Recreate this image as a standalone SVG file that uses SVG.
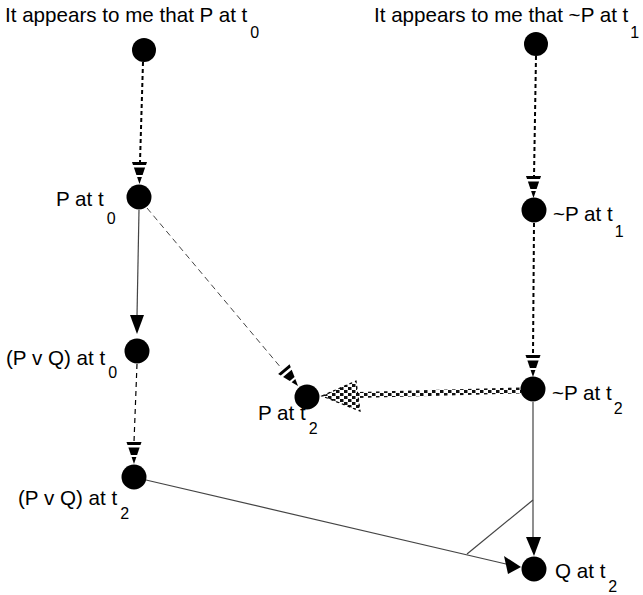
<svg xmlns="http://www.w3.org/2000/svg" width="643" height="595" viewBox="0 0 643 595">
<style>
text{font-family:"Liberation Sans",Arial,sans-serif;font-size:20.6px;fill:#000}
.sub{font-size:16px}
.node{fill:#000}
.solid{stroke:#444;stroke-width:1.2;fill:none}
.dash1{stroke:#000;stroke-width:2;stroke-dasharray:4 3;fill:none}
.dash2{stroke:#000;stroke-width:1.2;stroke-dasharray:5 4;fill:none}
.dash3{stroke:#444;stroke-width:1;stroke-dasharray:6 4;fill:none}
.head{fill:#000}
</style>
<defs>
<g id="sh">
<polygon points="-7.5,-22 7.5,-22 6.5,-19 -6.5,-19"/>
<polygon points="-5.6,-16.5 5.6,-16.5 3.1,-9 -3.1,-9"/>
<polygon points="-2.4,-7 2.4,-7 0,0"/>
</g>
<pattern id="checker" width="8" height="6" patternUnits="userSpaceOnUse">
<rect width="8" height="6" fill="#fff"/>
<rect x="0" y="0" width="3.5" height="3" fill="#111"/>
<rect x="4" y="3" width="3.5" height="3" fill="#111"/>
</pattern>
</defs>

<g id="connectors">
<!-- A -> C -->
<line class="dash1" x1="143" y1="62" x2="140" y2="162"/>
<use href="#sh" transform="translate(139.5,184)"/>
<!-- B -> D -->
<line class="dash1" x1="536" y1="56" x2="534" y2="177"/>
<use href="#sh" transform="translate(533.5,198)"/>
<!-- D -> G -->
<line class="dash1" x1="534" y1="223" x2="533" y2="355"/>
<use href="#sh" transform="translate(533,377)"/>
<!-- E -> H -->
<line class="dash2" x1="137" y1="364" x2="134" y2="442"/>
<use href="#sh" transform="translate(134,464)"/>
<!-- C -> F -->
<line class="dash3" x1="147" y1="208" x2="282" y2="369"/>
<use href="#sh" transform="translate(298,386) rotate(-40)"/>
<!-- C -> E -->
<line class="solid" stroke-width="1.5" x1="139" y1="210" x2="137" y2="316"/>
<polygon class="head" points="130,315 144,315 137,334"/>
<!-- G -> I -->
<line class="solid" x1="533" y1="402" x2="533" y2="537"/>
<polygon class="head" points="526,537 541,537 534,556"/>
<!-- H -> I -->
<line class="solid" x1="146" y1="480" x2="506" y2="564"/>
<polygon class="head" points="504,556 508,574 521,567"/>
<!-- conjunction bar -->
<line class="solid" x1="533" y1="500" x2="467" y2="554"/>
<!-- G -> F checkered -->
<polygon points="358,392 521,387.5 521,393.5 358,398" fill="url(#checker)"/>
<polygon points="322,396 356,381 360,411" fill="url(#checker)" stroke="#000" stroke-width="1.2" stroke-dasharray="3 3"/>
</g>

<g id="nA"><circle class="node" cx="144" cy="50" r="12"/><text x="5" y="22">It appears to me that P at t<tspan class="sub" dx="3" dy="16">0</tspan></text></g>
<g id="nB"><circle class="node" cx="536" cy="44" r="12"/><text x="374" y="22">It appears to me that ~P at t<tspan class="sub" dx="2" dy="16">1</tspan></text></g>
<g id="nC"><circle class="node" cx="139" cy="197" r="12.5"/><text x="56" y="206">P at t<tspan class="sub" dx="3" dy="18">0</tspan></text></g>
<g id="nD"><circle class="node" cx="534" cy="210" r="12.5"/><text x="553" y="221">~P at t<tspan class="sub" dx="2" dy="16">1</tspan></text></g>
<g id="nE"><circle class="node" cx="137" cy="351" r="12.5"/><text x="6" y="365">(P v Q) at t<tspan class="sub" dx="3" dy="13">0</tspan></text></g>
<g id="nF"><circle class="node" cx="307" cy="397" r="12.5"/><text x="258" y="420">P at t<tspan class="sub" dx="3" dy="14">2</tspan></text></g>
<g id="nG"><circle class="node" cx="533" cy="389" r="12.5"/><text x="552" y="400">~P at t<tspan class="sub" dx="2" dy="14">2</tspan></text></g>
<g id="nH"><circle class="node" cx="134" cy="477" r="12.5"/><text x="18" y="505">(P v Q) at t<tspan class="sub" dx="3" dy="14">2</tspan></text></g>
<g id="nI"><circle class="node" cx="534" cy="569" r="12.5"/><text x="555" y="578">Q at t<tspan class="sub" dx="3" dy="14">2</tspan></text></g>
</svg>
